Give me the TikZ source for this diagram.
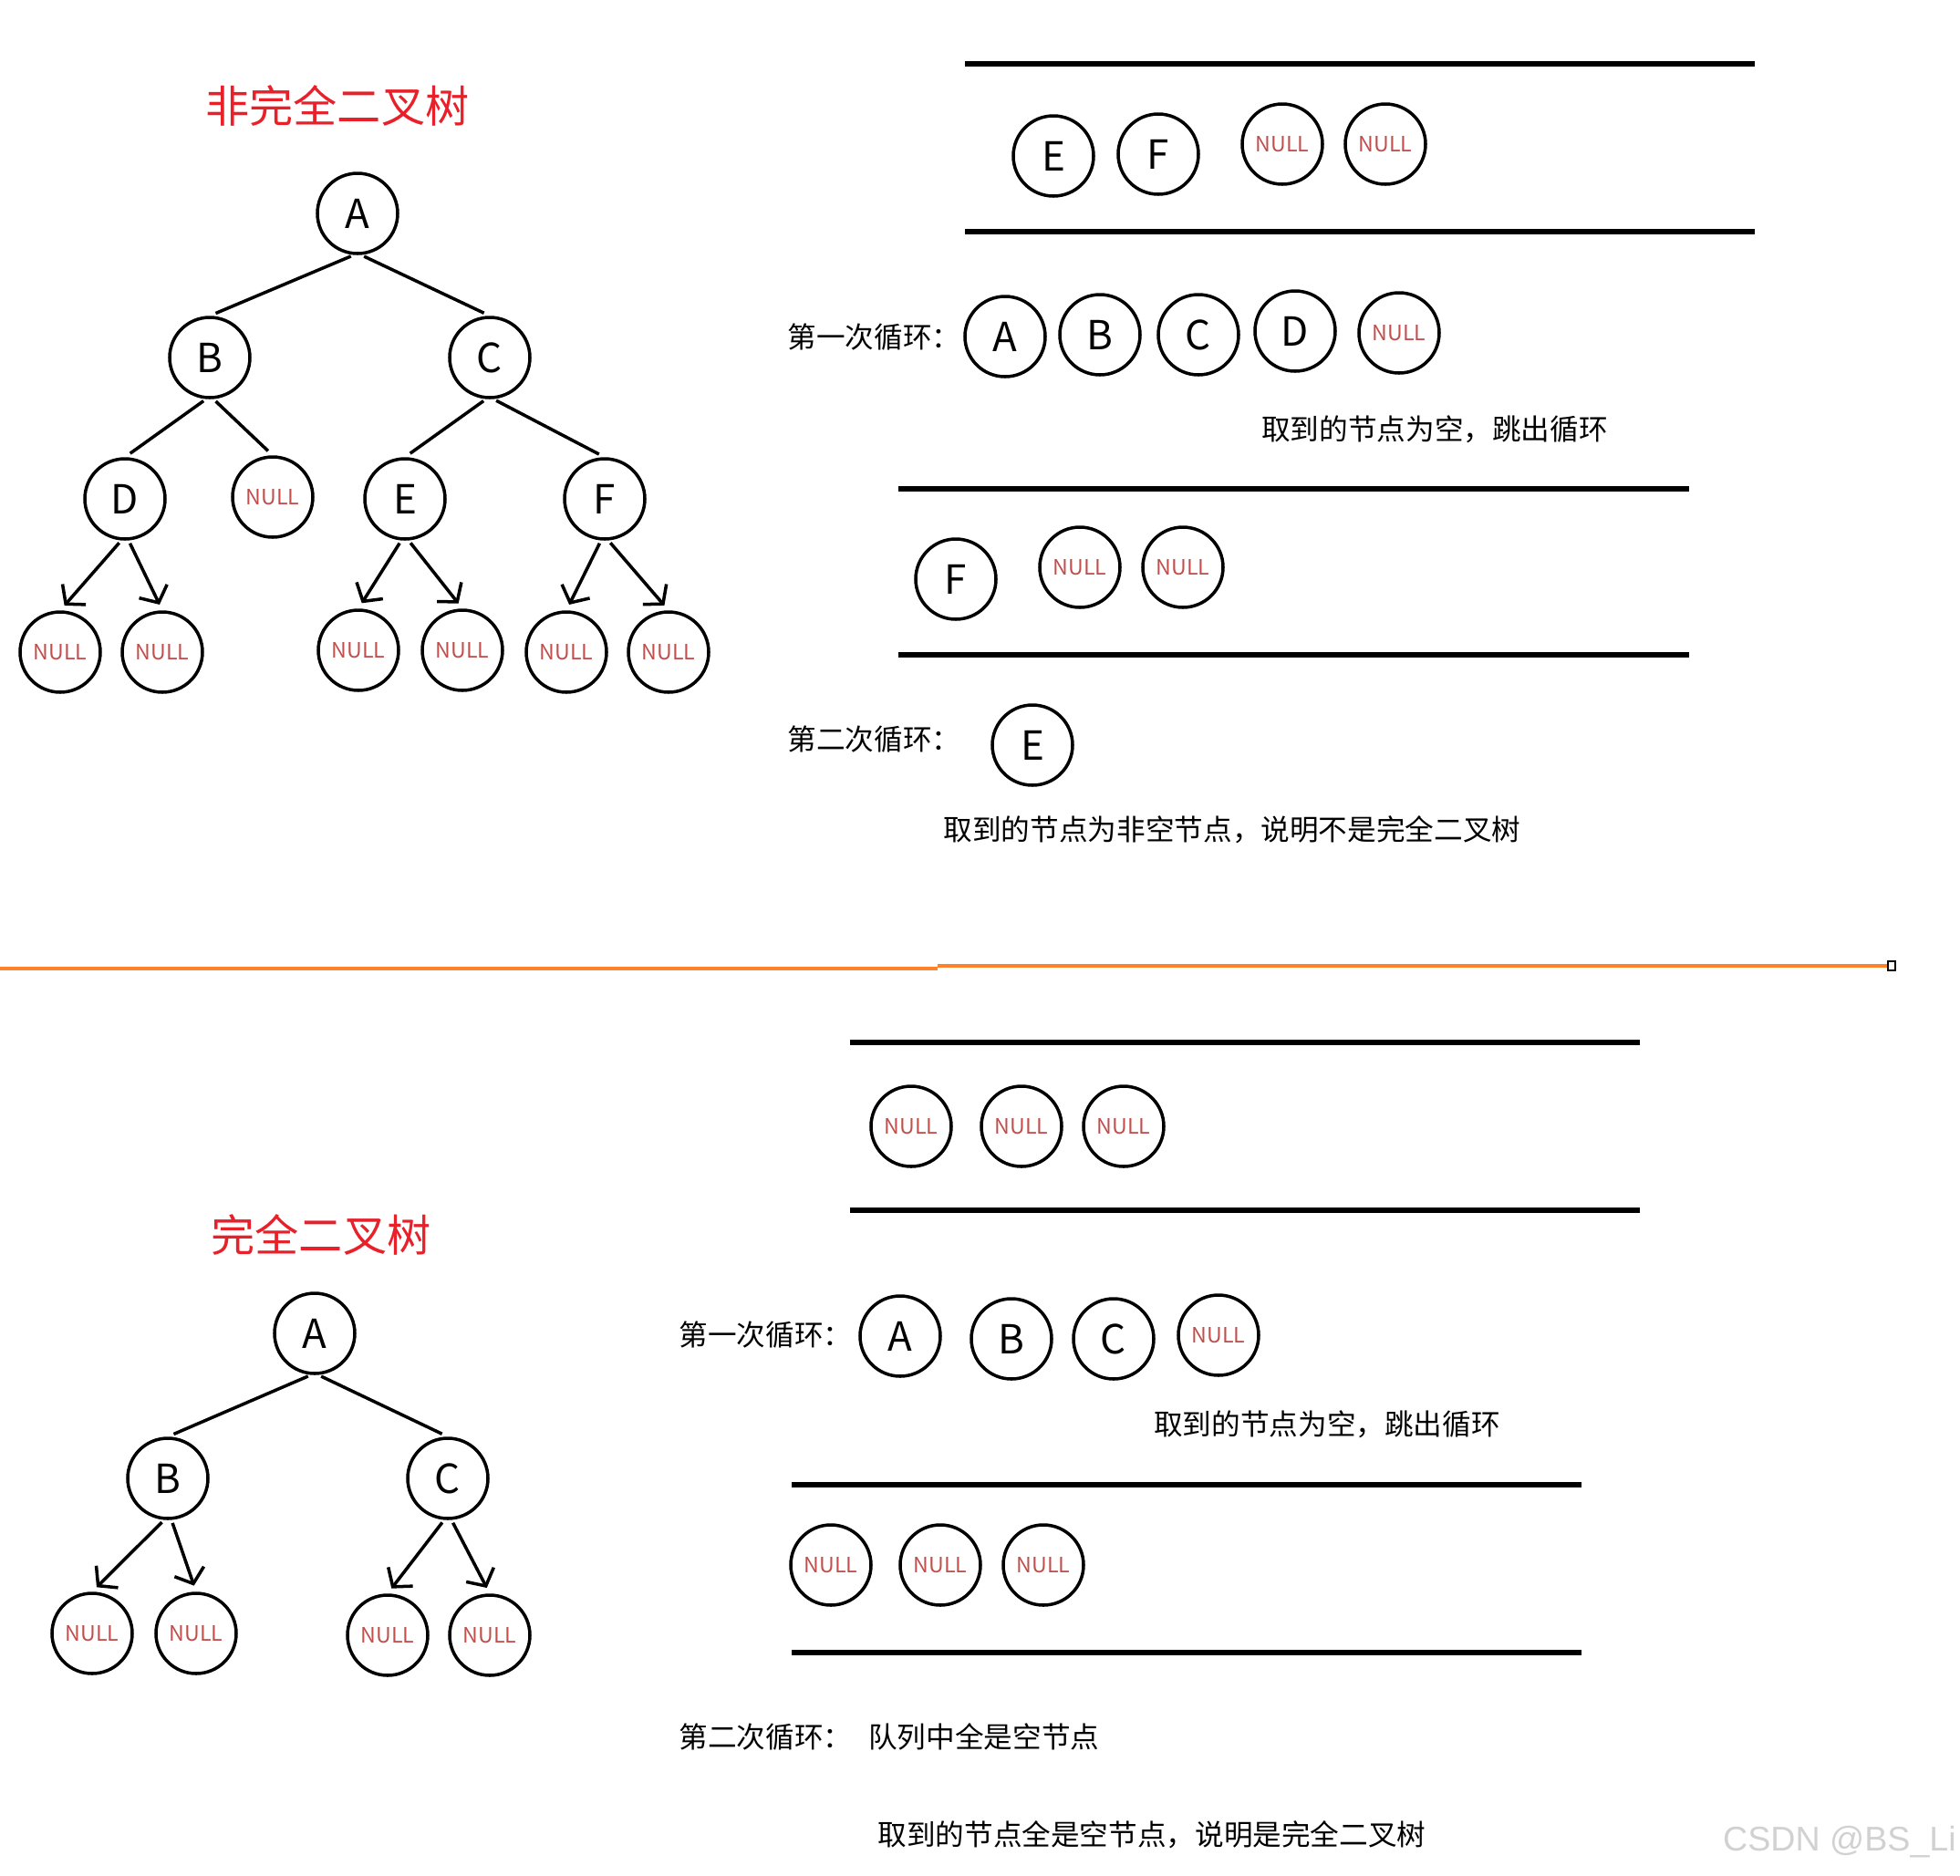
\documentclass[tikz,border=0pt]{standalone}
\usepackage{fontspec}
\setmainfont{Noto Sans CJK SC}
\newfontfamily\wmfont{Liberation Sans}
\usetikzlibrary{arrows.meta}
\definecolor{nullred}{RGB}{192,80,77}
\definecolor{titlered}{RGB}{232,32,42}
\definecolor{cutorange}{RGB}{255,130,40}

\begin{document}
\begin{tikzpicture}[>={Straight Barb[length=1.4mm,width=3.4mm]},line width=1pt,
  nd/.style={circle,draw,line width=1pt,minimum size=0.88cm,inner sep=0pt,font=\fontsize{12.5}{12.5}\selectfont},
  nl/.style={nd,text=nullred,font=\fontsize{6.6}{6.6}\selectfont},
  ttl/.style={text=titlered,font=\fontsize{13.7}{14}\selectfont},
  txt/.style={font=\fontsize{9}{9}\selectfont},
  edg/.style={shorten >=2pt,shorten <=1pt},
  qline/.style={line width=1.6pt}]
\useasboundingbox (0,0) rectangle (21.49,-20.57);

\node[ttl] (title1) at (3.70,-1.16) {非完全二叉树};
\node[nd] (tA) at (3.92,-2.34) {A};
\node[nd] (tB) at (2.30,-3.92) {B};
\node[nd] (tC) at (5.37,-3.92) {C};
\node[nd] (tD) at (1.37,-5.47) {D};
\node[nl] (tN0) at (2.99,-5.45) {NULL};
\node[nd] (tE) at (4.44,-5.47) {E};
\node[nd] (tF) at (6.63,-5.47) {F};
\node[nl] (tN1) at (0.66,-7.15) {NULL};
\node[nl] (tN2) at (1.78,-7.15) {NULL};
\node[nl] (tN3) at (3.93,-7.13) {NULL};
\node[nl] (tN4) at (5.07,-7.13) {NULL};
\node[nl] (tN5) at (6.21,-7.15) {NULL};
\node[nl] (tN6) at (7.33,-7.15) {NULL};
\draw[edg] (tA.-95) -- (tB.north);
\draw[edg] (tA.-85) -- (tC.north);
\draw[edg] (tB.-95) -- (tD.north);
\draw[edg] (tB.-85) -- (tN0.north);
\draw[edg] (tC.-95) -- (tE.north);
\draw[edg] (tC.-85) -- (tF.north);
\draw[->,edg] (tD.-95) -- (tN1.north);
\draw[->,edg] (tD.-85) -- (tN2.north);
\draw[->,edg] (tE.-95) -- (tN3.north);
\draw[->,edg] (tE.-85) -- (tN4.north);
\draw[->,edg] (tF.-95) -- (tN5.north);
\draw[->,edg] (tF.-85) -- (tN6.north);

\draw[qline] (10.58,-0.70) -- (19.24,-0.70);
\draw[qline] (10.58,-2.54) -- (19.24,-2.54);
\node[nd] (q1E) at (11.55,-1.71) {E};
\node[nd] (q1F) at (12.70,-1.69) {F};
\node[nl] (q1N1) at (14.06,-1.58) {NULL};
\node[nl] (q1N2) at (15.19,-1.58) {NULL};

\node[txt,anchor=west] (loop1) at (8.50,-3.70) {第一次循环：};
\node[nd] (r1A) at (11.02,-3.69) {A};
\node[nd] (r1B) at (12.06,-3.67) {B};
\node[nd] (r1C) at (13.14,-3.67) {C};
\node[nd] (r1D) at (14.20,-3.63) {D};
\node[nl] (r1N) at (15.34,-3.65) {NULL};
\node[txt] (res1) at (15.73,-4.71) {取到的节点为空，跳出循环};

\draw[qline] (9.85,-5.36) -- (18.52,-5.36);
\draw[qline] (9.85,-7.18) -- (18.52,-7.18);
\node[nd] (q2F) at (10.48,-6.35) {F};
\node[nl] (q2N1) at (11.84,-6.22) {NULL};
\node[nl] (q2N2) at (12.97,-6.22) {NULL};

\node[txt,anchor=west] (loop2) at (8.50,-8.11) {第二次循环：};
\node[nd] (r2E) at (11.32,-8.17) {E};
\node[txt] (res2) at (13.51,-9.10) {取到的节点为非空节点，说明不是完全二叉树};

\draw[cutorange,line width=1.3pt] (0,-10.62) -- (10.28,-10.62);
\draw[cutorange,line width=1.3pt] (10.28,-10.59) -- (20.72,-10.59);
\draw[line width=0.6pt,fill=white] (20.70,-10.54) rectangle (20.78,-10.64);

\node[ttl] (title2) at (3.52,-13.54) {完全二叉树};
\node[nd] (bA) at (3.45,-14.62) {A};
\node[nd] (bB) at (1.84,-16.21) {B};
\node[nd] (bC) at (4.91,-16.21) {C};
\node[nl] (bN1) at (1.01,-17.91) {NULL};
\node[nl] (bN2) at (2.15,-17.91) {NULL};
\node[nl] (bN3) at (4.25,-17.93) {NULL};
\node[nl] (bN4) at (5.37,-17.93) {NULL};
\draw[edg] (bA.-95) -- (bB.north);
\draw[edg] (bA.-85) -- (bC.north);
\draw[->,edg] (bB.-95) -- (bN1.north);
\draw[->,edg] (bB.-85) -- (bN2.north);
\draw[->,edg] (bC.-95) -- (bN3.north);
\draw[->,edg] (bC.-85) -- (bN4.north);

\draw[qline] (9.32,-11.43) -- (17.98,-11.43);
\draw[qline] (9.32,-13.27) -- (17.98,-13.27);
\node[nl] (q3N1) at (9.99,-12.35) {NULL};
\node[nl] (q3N2) at (11.20,-12.35) {NULL};
\node[nl] (q3N3) at (12.32,-12.35) {NULL};

\node[txt,anchor=west] (loop3) at (7.31,-14.64) {第一次循环：};
\node[nd] (r3A) at (9.87,-14.65) {A};
\node[nd] (r3B) at (11.09,-14.68) {B};
\node[nd] (r3C) at (12.21,-14.68) {C};
\node[nl] (r3N) at (13.36,-14.64) {NULL};
\node[txt] (res3) at (14.55,-15.62) {取到的节点为空，跳出循环};

\draw[qline] (8.68,-16.28) -- (17.34,-16.28);
\draw[qline] (8.68,-18.12) -- (17.34,-18.12);
\node[nl] (q4N1) at (9.11,-17.16) {NULL};
\node[nl] (q4N2) at (10.31,-17.16) {NULL};
\node[nl] (q4N3) at (11.44,-17.16) {NULL};

\node[txt,anchor=west] (loop4) at (7.31,-19.04) {第二次循环：\hspace{0.18cm}队列中全是空节点};
\node[txt] (res4) at (12.63,-20.12) {取到的节点全是空节点，说明是完全二叉树};

\node[text=black!18,font=\wmfont\fontsize{10.7}{11}\selectfont] (mark) at (20.17,-20.20) {CSDN @BS\_Li};
\end{tikzpicture}
\end{document}
